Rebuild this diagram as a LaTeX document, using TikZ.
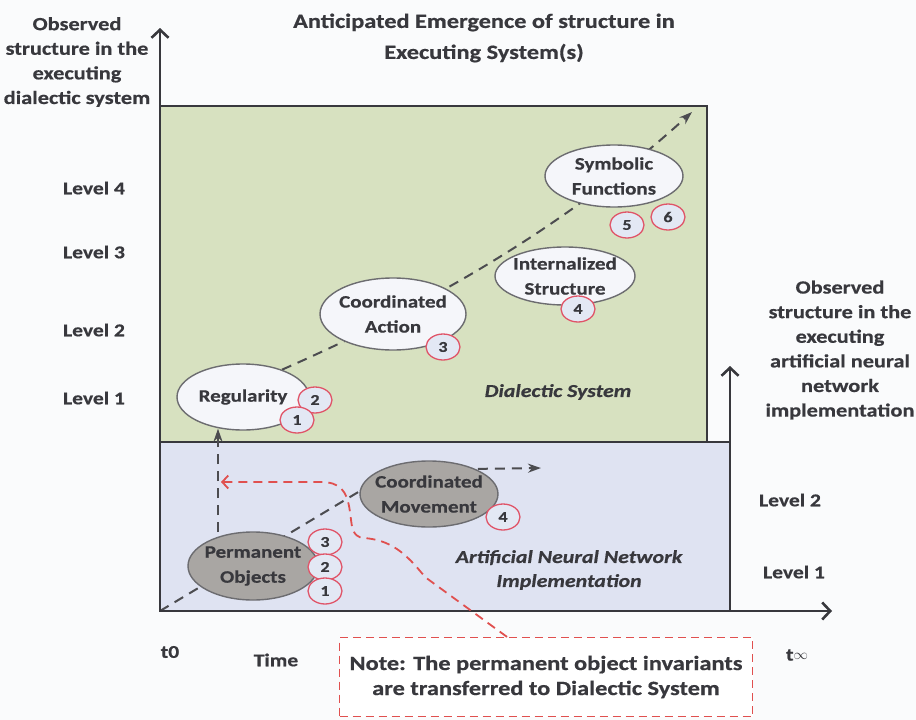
\documentclass[tikz,border=0pt]{standalone}
\usepackage{fontspec}
\setmainfont{Carlito}[FakeStretch=1.2, BoldFeatures={FakeBold=0.6}, BoldItalicFeatures={FakeBold=0.6}]
\usetikzlibrary{shapes.geometric,arrows.meta,calc}
\pgfdeclarelayer{panels}
\pgfdeclarelayer{links}
\pgfsetlayers{panels,links,main}

\definecolor{ink}{HTML}{38383D}
\definecolor{paper}{HTML}{FAFBFC}
\definecolor{dialgreen}{HTML}{D7E1C0}
\definecolor{annblue}{HTML}{DFE3F2}
\definecolor{nodewhite}{HTML}{F5F6FA}
\definecolor{nodegray}{HTML}{A9A6A3}
\definecolor{rimgray}{HTML}{6C6C70}
\definecolor{badgered}{HTML}{E05468}
\definecolor{badgefill}{HTML}{E3E8F4}
\definecolor{notered}{HTML}{E0504F}

\tikzset{
  stage/.style={ellipse, draw=rimgray, line width=1.4pt, fill=nodewhite,
    inner xsep=-6pt, inner ysep=0pt, align=center, text=ink,
    font=\fontsize{17.5}{25}\selectfont\bfseries},
  grounded/.style={stage, fill=nodegray},
  badge/.style={ellipse, draw=badgered, line width=1.3pt, fill=badgefill,
    minimum width=34pt, minimum height=26pt, inner sep=0pt, text=ink,
    font=\fontsize{15}{15}\selectfont\bfseries},
  axislabel/.style={align=center, text=ink,
    font=\fontsize{18.6}{24.6}\selectfont\bfseries},
  titlelabel/.style={align=center, text=ink,
    font=\fontsize{20.3}{31}\selectfont\bfseries},
  levellabel/.style={text=ink, inner sep=0pt,
    font=\fontsize{18}{20}\selectfont\bfseries},
  systemlabel/.style={align=center, text=ink,
    font=\fontsize{18.2}{24}\selectfont\bfseries\itshape},
  axisline/.style={draw=ink, line width=2.6pt,
    -{Straight Barb[length=8pt,width=17pt]}},
  trail/.style={draw=ink!90, line width=2pt, dash pattern=on 10pt off 7pt},
  trailtip/.style={trail, -{Stealth[length=13pt,width=9pt]}},
  transfer/.style={draw=notered, line width=1.8pt, dash pattern=on 9pt off 6pt,
    -{Straight Barb[length=6pt,width=13pt]}},
  notebox/.style={draw=notered, line width=1.2pt, dash pattern=on 8pt off 5pt,
    fill=white, align=center, text=ink, minimum width=413pt,
    minimum height=79pt, font=\fontsize{20.3}{25}\selectfont\bfseries}
}

\begin{document}
\begin{tikzpicture}[x=1pt,y=-1pt]
\useasboundingbox (0,0) rectangle (916,720);

% panels: paper, dialectic system (green), neural network (blue)
\begin{pgfonlayer}{panels}
  \fill[paper] (0,0) rectangle (916,720);
  \filldraw[fill=dialgreen, draw=ink, line width=1.4pt] (160,106) rectangle (707,442);
  \filldraw[fill=annblue, draw=ink, line width=1.4pt] (160,442) rectangle (730,611);
\end{pgfonlayer}

% axes
\coordinate (origin) at (160,611);
\coordinate (ytop) at (160,28);
\coordinate (xend) at (832,611);
\coordinate (rbase) at (730,611);
\coordinate (rtop) at (730,366);
\draw[axisline] (origin) -- (ytop);
\draw[axisline] (origin) -- (xend);
\draw[axisline] (rbase) -- (rtop);

% titles and axis labels
\node[titlelabel] (title) at (484,38) {Anticipated Emergence of structure in\\Executing System(s)};
\node[axislabel] (ylabel) at (77,62) {Observed\\structure in the\\executing\\dialectic system};
\node[axislabel] (rlabel) at (840,350) {Observed\\structure in the\\executing\\artificial neural\\network\\implementation};

\node[levellabel] (l4) at (94,188) {Level 4};
\node[levellabel] (l3) at (94,252) {Level 3};
\node[levellabel] (l2) at (94,330) {Level 2};
\node[levellabel] (l1) at (94,398) {Level 1};
\node[levellabel] (r2) at (790,500) {Level 2};
\node[levellabel] (r1) at (794,572) {Level 1};

\node[levellabel] (t0) at (170,652) {t0};
\node[levellabel] (time) at (276,660) {Time};
\node[levellabel] (tinf) at (797,655) {t\raisebox{1pt}{\fontsize{15}{15}\selectfont$\infty$}};

\node[systemlabel] (dsys) at (558,392) {Dialectic System};
\node[systemlabel] (asys) at (569,570) {Artificial Neural Network\\Implementation};

% stages of the dialectic system
\node[stage, minimum width=132pt, minimum height=66pt] (reg) at (243,397) {Regularity};
\node[stage, minimum width=146pt, minimum height=72pt] (ca) at (393,314) {Coordinated\\Action};
\node[stage, minimum width=140pt, minimum height=58pt] (is) at (565,276) {Internalized\\Structure};
\node[stage, minimum width=138pt, minimum height=62pt] (sf) at (614,176) {Symbolic\\Functions};

% stages of the neural network implementation
\node[grounded, minimum width=130pt, minimum height=68pt] (po) at (253,566) {Permanent\\Objects};
\node[grounded, minimum width=138pt, minimum height=66pt] (cm) at (429,494) {Coordinated\\Movement};

% numbered badges
\node[badge] (reg2) at (315,400) {2};
\node[badge] (reg1) at (297,420) {1};
\node[badge] (ca3) at (443,347) {3};
\node[badge] (is4) at (578,309) {4};
\node[badge] (sf5) at (627,225) {5};
\node[badge] (sf6) at (668,217) {6};
\node[badge] (po3) at (325,542) {3};
\node[badge] (po2) at (325,567) {2};
\node[badge] (po1) at (325,591) {1};
\node[badge] (cm4) at (503,517) {4};

% growth trails behind the stages
\coordinate (apex) at (692,112);
\coordinate (cmout) at (541,468);
\coordinate (vx) at (218,0);
\begin{pgfonlayer}{links}
  \draw[trailtip] (reg.35) .. controls (420,309) and (560,232) .. (apex);
  \draw[trailtip] (origin) -- ($(cm.center)+(-34,-24)$) -- (cmout);
  \draw[trailtip] (po.center -| vx) -- ($(reg.south -| vx)+(0,-2)$);
\end{pgfonlayer}

% note on the transfer of invariants
\node[notebox] (note) at (546,677) {Note: The permanent object invariants\\are transferred to Dialectic System};
\coordinate (pointer) at (221,482);
\draw[transfer] ($(note.north)+(-39,0)$) -- (425,577)
  .. controls (405,552) and (390,540) .. (364,538)
  .. controls (351,537) and (352,525) .. (350,512)
  .. controls (347,490) and (340,482) .. (320,482) -- (pointer);
\end{tikzpicture}
\end{document}
